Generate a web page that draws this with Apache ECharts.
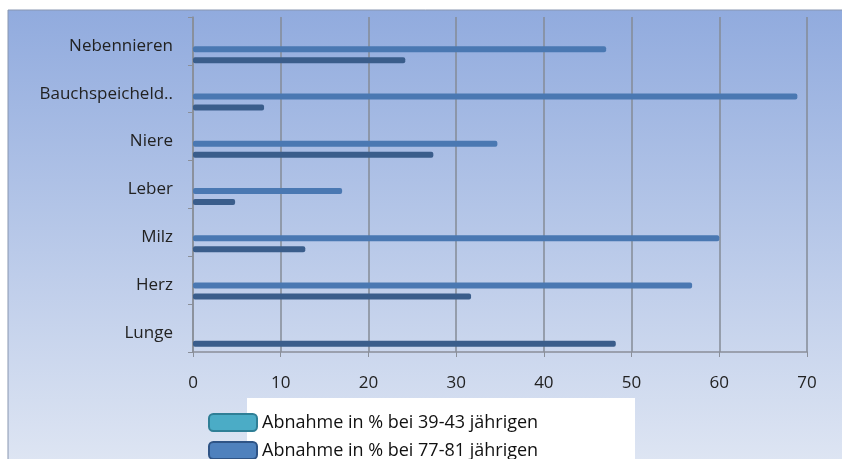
<!DOCTYPE html>
<html>
<head>
<meta charset="utf-8">
<script src="https://cdn.jsdelivr.net/npm/echarts@6/dist/echarts.min.js"></script>
<style>
  html, body { margin: 0; padding: 0; background: #fff; }
  #chart { width: 842px; height: 459px; }
</style>
</head>
<body>
<div id="chart"></div>
<script>
const organs = ['Nebennieren', 'Bauchspeicheld..', 'Niere', 'Leber', 'Milz', 'Herz', 'Lunge'];
const young = [47.1, 68.9, 34.7, 17.0, 60.0, 56.9, 0];
const old = [24.2, 8.1, 27.4, 4.8, 12.8, 31.7, 48.2];
const xTicks = [0, 10, 20, 30, 40, 50, 60, 70];

const nameYoung = 'Abnahme in % bei 39-43 jährigen';
const nameOld = 'Abnahme in % bei 77-81 jährigen';

const chart = echarts.init(document.getElementById('chart'));

const font = '"Open Sans", "Noto Sans", sans-serif';

const option = {
  animation: false,
  textStyle: { fontFamily: font },
  graphic: [
    {
      type: 'rect',
      z: -10,
      shape: { x: 8, y: 10, width: 842, height: 460 },
      style: {
        fill: new echarts.graphic.LinearGradient(0, 0, 0, 1, [
          { offset: 0, color: '#91abde' },
          { offset: 1, color: '#dfe6f3' }
        ]),
        stroke: '#8896b0',
        lineWidth: 1
      }
    },
    {
      type: 'rect',
      z: -9,
      shape: { x: 247, y: 398, width: 388, height: 70 },
      style: { fill: '#ffffff' }
    }
  ],
  legend: {
    orient: 'vertical',
    left: 203,
    top: 408,
    height: 60,
    itemWidth: 48,
    itemHeight: 17,
    itemGap: 9,
    icon: 'roundRect',
    textStyle: { fontSize: 18, color: '#111', fontFamily: font },
    data: [
      { name: nameYoung, itemStyle: { color: '#4bacc6', borderColor: '#2f7f96', borderWidth: 2 } },
      { name: nameOld, itemStyle: { color: '#4f81bd', borderColor: '#2f5486', borderWidth: 2 } }
    ]
  },
  grid: [
    // axes and grid lines
    { left: 193, right: 35, top: 17, bottom: 107 },
    // bars (sit a bit lower in each band, like the 3D original)
    { left: 193, right: 35, top: 31, bottom: 97 },
    // category labels
    { left: 193, right: 35, top: 22, bottom: 102 }
  ],
  xAxis: [
    {
      gridIndex: 0,
      type: 'value',
      min: 0,
      max: 70,
      interval: 10,
      axisLine: { show: true, lineStyle: { color: '#8a8f99', width: 1.5 } },
      axisTick: { show: true, length: 5, lineStyle: { color: '#8a8f99' } },
      splitLine: { show: true, lineStyle: { color: '#858b96', width: 1.5 } },
      axisLabel: {
        margin: 23,
        fontSize: 17,
        color: '#222',
        fontFamily: font,
        formatter: v => (xTicks.includes(v) ? String(v) : '')
      }
    },
    { gridIndex: 1, type: 'value', min: 0, max: 70, show: false },
    { gridIndex: 2, type: 'value', min: 0, max: 70, show: false }
  ],
  yAxis: [
    {
      gridIndex: 0,
      type: 'category',
      inverse: true,
      data: organs,
      axisLine: { show: true, lineStyle: { color: '#8a8f99', width: 1.5 } },
      axisTick: { show: true, length: 5, lineStyle: { color: '#8a8f99' } },
      axisLabel: { show: false }
    },
    {
      gridIndex: 1,
      type: 'category',
      inverse: true,
      data: organs,
      show: false
    },
    {
      gridIndex: 2,
      type: 'category',
      inverse: true,
      data: organs,
      axisLine: { show: false },
      axisTick: { show: false },
      axisLabel: {
        margin: 20,
        fontSize: 17,
        color: '#222',
        fontFamily: font
      }
    }
  ],
  series: [
    {
      name: nameYoung,
      type: 'bar',
      xAxisIndex: 1,
      yAxisIndex: 1,
      data: young,
      barWidth: 6,
      barGap: '83%',
      itemStyle: { color: '#4a78b2', borderRadius: 2 }
    },
    {
      name: nameOld,
      type: 'bar',
      xAxisIndex: 1,
      yAxisIndex: 1,
      data: old,
      barWidth: 6,
      itemStyle: { color: '#3a5d8b', borderRadius: 2 }
    }
  ]
};

chart.setOption(option);
</script>
</body>
</html>
